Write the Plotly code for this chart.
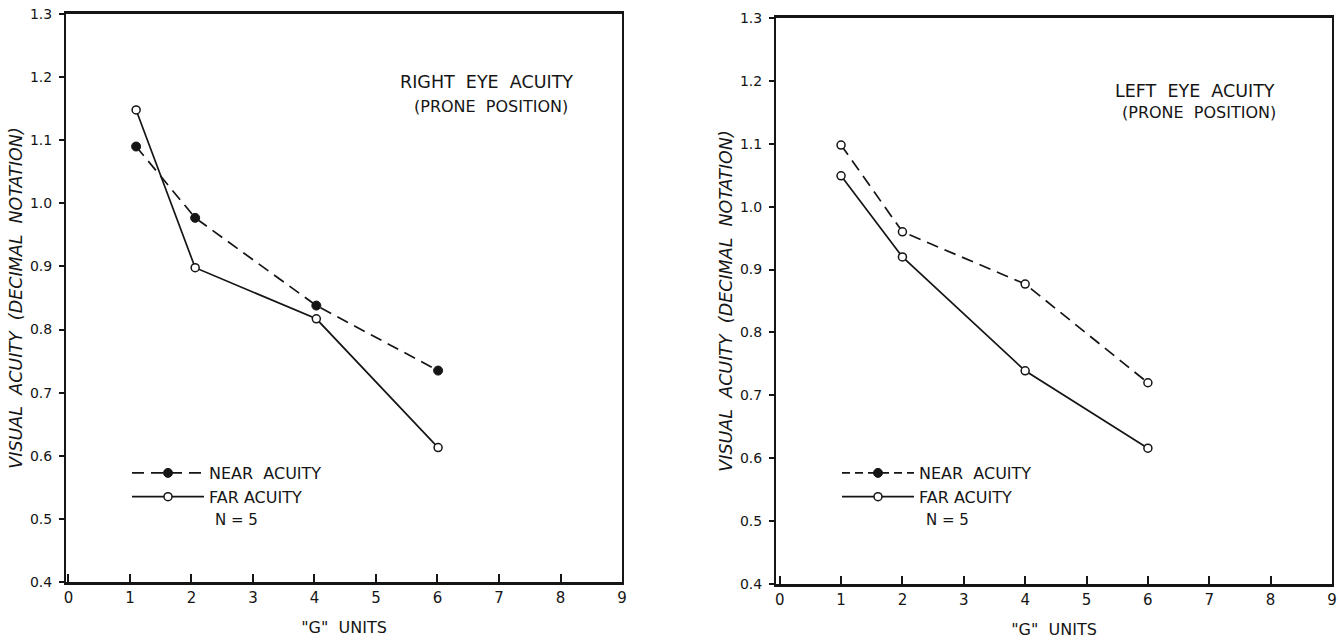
import plotly.graph_objects as go

# ---- data ----
g_left = [1.1, 2.06, 4.03, 6.01]           # "G" units, right-eye panel
right_eye_near = [1.09, 0.977, 0.838, 0.735]
right_eye_far = [1.148, 0.898, 0.817, 0.613]

g_right = [1.0, 2.0, 4.0, 6.0]             # "G" units, left-eye panel
left_eye_near = [1.098, 0.960, 0.877, 0.720]
left_eye_far = [1.049, 0.920, 0.739, 0.616]

x_ticks = [0, 1, 2, 3, 4, 5, 6, 7, 8, 9]
x_tick_labels = ["0", "1", "2", "3", "4", "5", "6", "7", "8", "9"]
y_ticks = [0.4, 0.5, 0.6, 0.7, 0.8, 0.9, 1.0, 1.1, 1.2, 1.3]
y_tick_labels = ["0.4", "0.5", "0.6", "0.7", "0.8", "0.9", "1.0", "1.1", "1.2", "1.3"]

INK = "#151515"
FONT = "DejaVu Sans"
W, H = 1340, 640


def fx(px):
    return px / W


def fy(py):
    return 1 - py / H


fig = go.Figure()

open_marker = dict(symbol="circle", size=8, color="white", line=dict(color=INK, width=1.5))
filled_marker = dict(symbol="circle", size=9, color=INK, line=dict(color=INK, width=1))
DASH = "12px,7px"

# left panel (right eye)
fig.add_trace(go.Scatter(x=g_left, y=right_eye_near, mode="lines+markers", name="NEAR&nbsp;&nbsp;ACUITY",
                         line=dict(color=INK, width=1.7, dash=DASH), marker=filled_marker,
                         xaxis="x", yaxis="y", legend="legend"))
fig.add_trace(go.Scatter(x=g_left, y=right_eye_far, mode="lines+markers", name="FAR ACUITY",
                         line=dict(color=INK, width=1.7), marker=open_marker,
                         xaxis="x", yaxis="y", legend="legend"))

# right panel (left eye)
fig.add_trace(go.Scatter(x=g_right, y=left_eye_near, mode="lines+markers", name="NEAR&nbsp;&nbsp;ACUITY",
                         line=dict(color=INK, width=1.7, dash=DASH), marker=open_marker,
                         xaxis="x2", yaxis="y2", showlegend=False))
# legend key for the right panel (filled marker, as printed in the key)
fig.add_trace(go.Scatter(x=[None], y=[None], mode="lines+markers", name="NEAR&nbsp;&nbsp;ACUITY",
                         line=dict(color=INK, width=1.7, dash="8px,5px"), marker=filled_marker,
                         xaxis="x2", yaxis="y2", legend="legend2"))
fig.add_trace(go.Scatter(x=g_right, y=left_eye_far, mode="lines+markers", name="FAR ACUITY",
                         line=dict(color=INK, width=1.7), marker=open_marker,
                         xaxis="x2", yaxis="y2", legend="legend2"))


def xaxis_cfg(dom, rng):
    return dict(domain=dom, range=rng, tickmode="array", tickvals=x_ticks, ticktext=x_tick_labels,
                ticks="inside", ticklen=8, tickwidth=1.5, tickcolor=INK,
                showline=True, linewidth=2.5, linecolor=INK, mirror=True, automargin=False,
                showgrid=False, zeroline=False, ticklabelstandoff=0, ticklabeloverflow="allow",
                tickfont=dict(family=FONT, size=15, color=INK),
                title=dict(text='"G"&nbsp;&nbsp;UNITS', font=dict(family=FONT, size=16, color=INK), standoff=17))


def yaxis_cfg(dom, anchor):
    return dict(domain=dom, range=[0.4, 1.3], anchor=anchor, tickmode="array", tickvals=y_ticks,
                ticktext=y_tick_labels, ticks="outside", ticklen=5, tickwidth=1.5, tickcolor=INK,
                showline=True, linewidth=2, linecolor=INK, mirror=True, automargin=False,
                showgrid=False, zeroline=False, ticklabelstandoff=4, ticklabeloverflow="allow",
                tickfont=dict(family=FONT, size=14, color=INK),
                title=dict(text="VISUAL&nbsp;&nbsp;ACUITY&nbsp;&nbsp;(DECIMAL&nbsp;&nbsp;NOTATION)",
                           font=dict(family=FONT, size=17.5, color=INK, style="italic"), standoff=3))


legend_common = dict(bgcolor="rgba(0,0,0,0)", borderwidth=0, itemwidth=72, tracegroupgap=0,
                     font=dict(family=FONT, size=16, color=INK), xanchor="left", yanchor="top",
                     traceorder="normal", itemclick=False, itemdoubleclick=False)


def label(text, px, py, size, anchor="center"):
    return dict(text=text, x=fx(px), y=fy(py), xref="paper", yref="paper", showarrow=False,
                xanchor=anchor, yanchor="middle", font=dict(family=FONT, size=size, color=INK))


fig.update_layout(
    width=W, height=H, margin=dict(l=0, r=0, t=0, b=0),
    paper_bgcolor="white", plot_bgcolor="white",
    font=dict(family=FONT, color=INK),
    xaxis=xaxis_cfg([fx(66), fx(622)], [-0.04, 9]),
    yaxis=yaxis_cfg([fy(582), fy(14)], "x"),
    xaxis2=dict(xaxis_cfg([fx(776), fx(1332)], [-0.06, 9]), anchor="y2"),
    yaxis2=yaxis_cfg([fy(584), fy(18)], "x2"),
    legend=dict(legend_common, x=fx(127), y=fy(456)),
    legend2=dict(legend_common, x=fx(837), y=fy(456)),
    showlegend=True,
    annotations=[
        label("RIGHT&nbsp;&nbsp;EYE&nbsp;&nbsp;ACUITY", 486, 82, 17.5),
        label("(PRONE&nbsp;&nbsp;POSITION)", 491, 106, 16),
        label("LEFT&nbsp;&nbsp;EYE&nbsp;&nbsp;ACUITY", 1195, 91, 17.5),
        label("(PRONE&nbsp;&nbsp;POSITION)", 1199, 113, 16),
        label("N = 5", 213, 520, 15, "left"),
        label("N = 5", 924, 520, 15, "left"),
    ],
)

# the page's default body margin would shift the fixed-size figure; remove it
fig.write_html("out.html", config={"displayModeBar": False},
               post_script="document.body.style.margin='0px';")
